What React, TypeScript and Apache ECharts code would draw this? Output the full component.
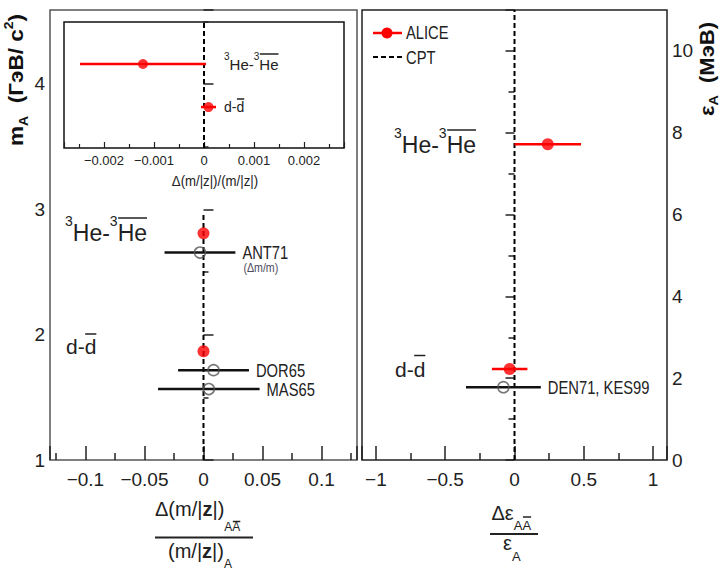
import React, { useEffect, useRef } from "react";
import * as echarts from "echarts";

const FONT = '"Liberation Sans", Arial, Helvetica, sans-serif';
const TXT = "#222";

// ---- Left panel: Δ(m/|z|)/(m/|z|) vs m_A (GeV/c^2)
const leftAliceX = [0, 0];
const leftAliceY = [2.808, 1.868];
const prevNames = ["ANT71", "DOR65", "MAS65"];
const prevNotes = ["(Δm/m)", "", ""];
const prevX = [-0.003, 0.0085, 0.0045];
const prevErr = [0.03, 0.03, 0.043];
const prevY = [2.655, 1.717, 1.566];
const cptX = [0, 0];
const cptLeftY = [1, 2.96];

// ---- Inset (zoomed ALICE results)
const insetAliceX = [-0.00122, 0.00009];
const insetAliceErr = [0.00126, 0.00015];
const insetAliceY = [0.667, 0.325];
const cptInsetY = [0, 1];

// ---- Right panel: Δε/ε vs ε_A (MeV)
const rightAliceX = [0.24, -0.035];
const rightAliceErr = [0.24, 0.128];
const rightAliceY = [7.72, 2.224];
const rightPrevNames = ["DEN71, KES99"];
const rightPrevX = [-0.08];
const rightPrevErr = [0.27];
const rightPrevY = [1.78];
const cptRightY = [0, 11];

// ---- Axis ranges and tick steps
const leftXRange = [-0.13, 0.13];
const leftXStep = 0.05;
const leftYRange = [1, 4.59];
const leftYStep = 1;
const insetXRange = [-0.0028, 0.0028];
const insetXStep = 0.001;
const rightXRange = [-1.1, 1.1];
const rightXStep = 0.5;
const rightYRange = [0, 11];
const rightYStep = 2;

const tickFmt = (step: number, digits: number) => (v: number) => {
  const k = v / step;
  if (Math.abs(k - Math.round(k)) > 1e-6) return "";
  const r = Math.round(k) * step;
  if (Math.abs(r) < 1e-12) return "0";
  return parseFloat(r.toFixed(digits)).toString().replace("-", "\u2212");
};

let mctx: CanvasRenderingContext2D | null = null;
function measure(t: string, size: number, bold = false) {
  if (!mctx) mctx = document.createElement("canvas").getContext("2d");
  mctx!.font = `${bold ? "bold " : ""}${size}px "Liberation Sans"`;
  return mctx!.measureText(t).width;
}

type Frag = { t: string; size: number; bold?: boolean; dy?: number; over?: boolean };
function fragsWidth(frags: Frag[]) {
  return frags.reduce((s, f) => s + measure(f.t, f.size, f.bold), 0);
}
function richLine(frags: Frag[], x0: number, base: number, color: string, overY?: number) {
  const els: any[] = [];
  let cx = x0;
  for (const f of frags) {
    const w = measure(f.t, f.size, f.bold);
    els.push({
      type: "text",
      x: cx,
      y: base + (f.dy || 0) - 0.35 * f.size,
      silent: true,
      style: {
        text: f.t,
        fontSize: f.size,
        fontWeight: f.bold ? "bold" : "normal",
        fontFamily: FONT,
        fill: color,
        align: "left",
        verticalAlign: "middle",
        textAlign: "left",
        textVerticalAlign: "middle",
      },
    });
    if (f.over && overY !== undefined) {
      els.push({
        type: "line",
        silent: true,
        shape: { x1: cx + 0.5, y1: overY, x2: cx + w, y2: overY },
        style: { stroke: color, lineWidth: 1.5 },
      });
    }
    cx += w;
  }
  return els;
}

function smallText(text: string, x: number, y: number, size: number, color: string) {
  return {
    type: "text",
    x,
    y,
    scaleX: 0.82,
    silent: true,
    style: {
      text,
      fontSize: size,
      fontFamily: FONT,
      fill: color,
      align: "left",
      verticalAlign: "middle",
      textAlign: "left",
      textVerticalAlign: "middle",
    },
  };
}

function errorBars(gi: number, xs: number[], errs: number[], ys: number[], color: string, lw: number, names?: string[], notes?: string[]) {
  return {
    type: "custom",
    xAxisIndex: gi,
    yAxisIndex: gi,
    z: 3,
    silent: true,
    data: xs.map((x, i) => [x - errs[i], x + errs[i], ys[i], i]),
    encode: { x: [0, 1], y: 2 },
    renderItem: (_p: any, api: any) => {
      const y = api.value(2);
      const a = api.coord([api.value(0), y]);
      const b = api.coord([api.value(1), y]);
      const i = api.value(3);
      const children: any[] = [
        { type: "line", shape: { x1: a[0], y1: a[1], x2: b[0], y2: b[1] }, style: { stroke: color, lineWidth: lw } },
      ];
      if (names && names[i]) children.push(smallText(names[i], b[0] + 7, b[1], 18, TXT));
      if (notes && notes[i]) children.push(smallText(notes[i], b[0] + 8, b[1] + 15, 13, "#4a4a5a"));
      return { type: "group", children };
    },
  };
}

function dots(gi: number, xs: number[], ys: number[], size: number, filled: boolean) {
  return {
    type: "scatter",
    xAxisIndex: gi,
    yAxisIndex: gi,
    z: 5,
    silent: true,
    symbol: "circle",
    symbolSize: size,
    emphasis: { disabled: true },
    data: xs.map((x, i) => [x, ys[i]]),
    itemStyle: filled
      ? { color: "#ff0000" }
      : { color: "rgba(0,0,0,0)", borderColor: "#555", borderWidth: 1.6 },
  };
}

function cpt(gi: number, ys: number[]) {
  return {
    type: "line",
    xAxisIndex: gi,
    yAxisIndex: gi,
    z: 2,
    silent: true,
    symbol: "none",
    data: cptX.map((x, i) => [x, ys[i]]),
    lineStyle: { color: "#000", width: 2, type: [5, 3] },
  };
}

const labelStyle = (size: number) => ({ fontSize: size, color: TXT, fontFamily: FONT });

export default function App() {
  const ref = useRef<HTMLDivElement>(null);
  useEffect(() => {
    if (!ref.current) return;
    const chart = echarts.init(ref.current, null, { renderer: "svg", width: 723, height: 571 });

    const tickLine = { color: "#222", width: 1.5 };

    const xAxis = [
      {
        gridIndex: 0, type: "value", min: leftXRange[0], max: leftXRange[1],
        minInterval: leftXStep, maxInterval: leftXStep,
        axisLine: { show: false }, splitLine: { show: false }, minorSplitLine: { show: false },
        axisTick: { inside: true, length: 14, lineStyle: tickLine },
        minorTick: { show: true, splitNumber: 2, length: 7, lineStyle: tickLine },
        axisLabel: { ...labelStyle(19), margin: 10, showMinLabel: false, showMaxLabel: false, formatter: tickFmt(leftXStep, 3) },
      },
      {
        gridIndex: 1, type: "value", min: insetXRange[0], max: insetXRange[1],
        minInterval: insetXStep, maxInterval: insetXStep,
        axisLine: { show: false }, splitLine: { show: false }, minorSplitLine: { show: false },
        axisTick: { inside: true, length: 6, lineStyle: { color: "#222", width: 1.2 } },
        minorTick: { show: true, splitNumber: 2, length: 4, lineStyle: { color: "#222", width: 1.2 } },
        axisLabel: { ...labelStyle(13), margin: 6, showMinLabel: false, showMaxLabel: false, formatter: tickFmt(insetXStep, 4) },
      },
      {
        gridIndex: 2, type: "value", min: rightXRange[0], max: rightXRange[1],
        minInterval: rightXStep, maxInterval: rightXStep,
        axisLine: { show: false }, splitLine: { show: false }, minorSplitLine: { show: false },
        axisTick: { inside: true, length: 14, lineStyle: tickLine },
        minorTick: { show: true, splitNumber: 2, length: 7, lineStyle: tickLine },
        axisLabel: { ...labelStyle(19), margin: 10, showMinLabel: false, showMaxLabel: false, formatter: tickFmt(rightXStep, 2) },
      },
    ];

    const yAxis = [
      {
        gridIndex: 0, type: "value", min: leftYRange[0], max: leftYRange[1], interval: leftYStep,
        axisLine: { show: false }, splitLine: { show: false }, minorSplitLine: { show: false },
        axisTick: { inside: true, length: 10, lineStyle: tickLine },
        minorTick: { show: true, splitNumber: 2, length: 5, lineStyle: tickLine },
        axisLabel: { ...labelStyle(19), margin: 5, showMaxLabel: false, formatter: tickFmt(leftYStep, 0) },
      },
      { gridIndex: 1, type: "value", min: 0, max: 1, show: false },
      {
        gridIndex: 2, type: "value", position: "right", min: rightYRange[0], max: rightYRange[1], interval: rightYStep,
        axisLine: { show: false }, splitLine: { show: false }, minorSplitLine: { show: false },
        axisTick: { inside: true, length: 9, lineStyle: tickLine },
        minorTick: { show: true, splitNumber: 2, length: 6, lineStyle: tickLine },
        axisLabel: { ...labelStyle(19), margin: 5, showMaxLabel: false, formatter: tickFmt(rightYStep, 0) },
      },
    ];

    const big = 23, sup = 14;
    const heFrags = (s: number, ss: number, d: number): Frag[] => [
      { t: "3", size: ss, dy: d },
      { t: "He-", size: s },
      { t: "3", size: ss, dy: d },
      { t: "He", size: s, over: true },
    ];
    const ddFrags = (s: number): Frag[] => [
      { t: "d-", size: s },
      { t: "d", size: s, over: true },
    ];

    // rotated axis names
    const leftName: Frag[] = [
      { t: "m", size: 21, bold: true },
      { t: "A", size: 13, bold: true, dy: 5 },
      { t: "  (ГэВ/ c", size: 21, bold: true },
      { t: "2", size: 13, bold: true, dy: -10 },
      { t: ")", size: 21, bold: true },
    ];
    const rightName: Frag[] = [
      { t: "ε", size: 20, bold: true },
      { t: "A", size: 13, bold: true, dy: 4 },
      { t: "  (МэВ)", size: 20, bold: true },
    ];
    const leftNameScale = 132 / fragsWidth(leftName);
    const rightNameScale = 94 / fragsWidth(rightName);

    const insetName: Frag[] = [{ t: "Δ(m/|z|)/(m/|z|)", size: 15 }];
    const insetNameW = fragsWidth(insetName) * 0.88;

    const graphic: any[] = [
      ...richLine(heFrags(big, sup, -15), 65, 241, TXT, 218),
      ...richLine(ddFrags(21), 66, 354, TXT, 334),
      ...richLine(heFrags(big, sup, -15), 394, 153, TXT, 130),
      ...richLine(ddFrags(21), 395, 377, TXT, 355.5),
      ...richLine(heFrags(15, 10, -10), 224, 70, TXT, 54),
      ...richLine(ddFrags(14), 224, 111.5, TXT, 99),
      {
        type: "group", x: 215 - insetNameW / 2, y: 181, scaleX: 0.88, silent: true,
        children: richLine(insetName, 0, 5.3, TXT),
      },
      // bottom-left axis title (fraction)
      ...richLine(
        [
          { t: "Δ(m/|", size: 20 }, { t: "z", size: 20, bold: true }, { t: "|)", size: 20 },
          { t: "A", size: 12, dy: 15.5 }, { t: "A", size: 12, dy: 15.5, over: true },
        ],
        155, 516, TXT, 521.5
      ),
      { type: "line", silent: true, shape: { x1: 155, y1: 537.5, x2: 253, y2: 537.5 }, style: { stroke: TXT, lineWidth: 2 } },
      ...richLine(
        [{ t: "(m/|", size: 20 }, { t: "z", size: 20, bold: true }, { t: "|)", size: 20 }, { t: "A", size: 12, dy: 10.5 }],
        168, 557.5, TXT
      ),
      // bottom-right axis title
      ...richLine(
        [{ t: "Δε", size: 20 }, { t: "A", size: 13, dy: 10 }, { t: "A", size: 13, dy: 10, over: true }],
        491.5, 520, TXT, 517
      ),
      { type: "line", silent: true, shape: { x1: 490, y1: 534, x2: 538, y2: 534 }, style: { stroke: TXT, lineWidth: 2 } },
      ...richLine([{ t: "ε", size: 20 }, { t: "A", size: 13, dy: 11 }], 503, 550, TXT),
      // left y name
      {
        type: "group", x: 23, y: 146, rotation: Math.PI / 2, scaleX: leftNameScale, silent: true,
        children: richLine(leftName, 0, 0, "#111"),
      },
      // right y name
      {
        type: "group", x: 714, y: 116, rotation: Math.PI / 2, scaleX: rightNameScale, silent: true,
        children: richLine(rightName, 0, 0, "#111"),
      },
      // legend
      { type: "line", silent: true, shape: { x1: 373, y1: 33, x2: 402, y2: 33 }, style: { stroke: "#ff0000", lineWidth: 2.5 } },
      { type: "circle", silent: true, shape: { cx: 387, cy: 33, r: 5.5 }, style: { fill: "#ff0000" } },
      smallText("ALICE", 406, 32, 18, TXT),
      { type: "line", silent: true, shape: { x1: 373, y1: 57, x2: 403, y2: 57 }, style: { stroke: "#000", lineWidth: 2, lineDash: [5, 3] } },
      smallText("CPT", 406, 57, 18, TXT),
    ];

    chart.setOption({
      animation: false,
      backgroundColor: "#fff",
      grid: [
        { left: 50, top: 10, width: 307, height: 450, show: true, borderColor: "#555", borderWidth: 1.5, backgroundColor: "rgba(0,0,0,0)", containLabel: false, outerBoundsMode: "none" },
        { left: 64, top: 22, width: 280, height: 126, show: true, borderColor: "#111", borderWidth: 1.5, backgroundColor: "#fff", containLabel: false, outerBoundsMode: "none" },
        { left: 362, top: 10, width: 305, height: 450, show: true, borderColor: "#222", borderWidth: 1.5, backgroundColor: "rgba(0,0,0,0)", containLabel: false, outerBoundsMode: "none" },
      ],
      xAxis,
      yAxis,
      series: [
        cpt(0, cptLeftY),
        cpt(1, cptInsetY),
        cpt(2, cptRightY),
        errorBars(0, prevX, prevErr, prevY, "#111", 2.5, prevNames, prevNotes),
        errorBars(1, insetAliceX, insetAliceErr, insetAliceY, "#ff0000", 2.5),
        errorBars(2, rightAliceX, rightAliceErr, rightAliceY, "#ff0000", 2.5),
        errorBars(2, rightPrevX, rightPrevErr, rightPrevY, "#111", 2.5, rightPrevNames),
        dots(0, leftAliceX, leftAliceY, 12, true),
        dots(0, prevX, prevY, 11, false),
        dots(1, insetAliceX, insetAliceY, 10, true),
        dots(2, rightAliceX, rightAliceY, 12, true),
        dots(2, rightPrevX, rightPrevY, 11, false),
      ],
      graphic,
    });
    return () => chart.dispose();
  }, []);

  return (
    <div
      ref={ref}
      style={{ position: "absolute", left: 0, top: 0, width: 723, height: 571, background: "#fff" }}
    />
  );
}
